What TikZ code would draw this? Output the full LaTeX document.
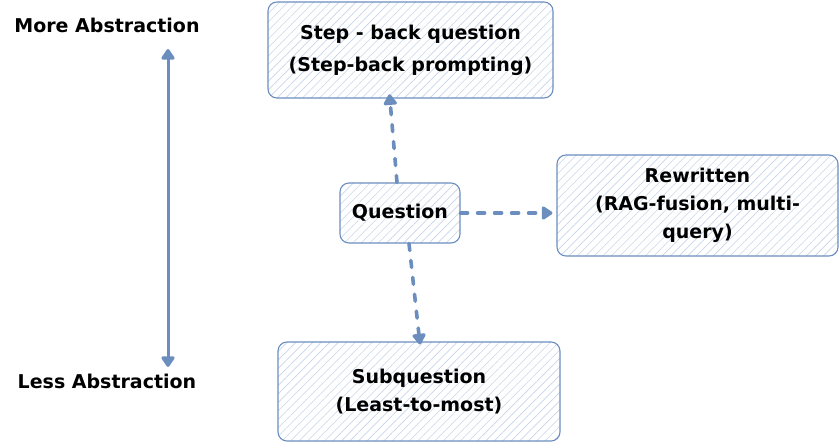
\documentclass[tikz,border=0pt]{standalone}
\usepackage{fontspec}
\setmainfont{DejaVu Sans}
\usetikzlibrary{arrows.meta}
\usetikzlibrary{patterns.meta}
\definecolor{sketchblue}{HTML}{6C8EBF}
\definecolor{hatchblue}{HTML}{C6D5EC}

\begin{document}
\begin{tikzpicture}[x=1pt,y=-1pt,
  box/.style={draw=sketchblue,line width=1.1pt,rounded corners=9pt,
    preaction={fill=white},pattern={Lines[angle=45,distance=6pt,line width=0.6pt]},
    pattern color=hatchblue,align=center,inner sep=0pt,
    font=\bfseries\fontsize{19}{28}\selectfont},
  lbl/.style={font=\bfseries\fontsize{19}{20}\selectfont},
  tipshape/.style={-{Triangle[round,length=12pt,width=15pt]}},
  dasharrow/.style={sketchblue,line width=3.6pt,line cap=round,dash pattern=on 7pt off 10pt,tipshape}]
\useasboundingbox (0,0) rectangle (839,443);
\node[box,minimum width=285pt,minimum height=96pt,
  font=\bfseries\fontsize{19}{32}\selectfont] (step) at (410.5,50) {Step - back question\\(Step-back prompting)};
\node[box,minimum width=120pt,minimum height=60pt] (q) at (400,213) {Question};
\node[box,minimum width=281pt,minimum height=101pt] (rw) at (697.5,205.5) {Rewritten\\(RAG-fusion, multi-\\query)};
\node[box,minimum width=282pt,minimum height=99pt] (sub) at (419,391.5) {Subquestion\\(Least-to-most)};
\node[lbl] (more) at (107,25) {More Abstraction};
\node[lbl] (less) at (107,381) {Less Abstraction};
\coordinate (top) at (168,49);
\coordinate (bot) at (168,367);
\draw[sketchblue,line width=3pt,{Triangle[round,length=12pt,width=15pt]}-{Triangle[round,length=12pt,width=15pt]}] (top) -- (bot);
\draw[dasharrow] ([xshift=-3pt]q.north) -- ([xshift=-21pt,yshift=4pt]step.south);
\draw[dasharrow] (q.east) -- ([xshift=-4pt]q.east -| rw.west);
\draw[dasharrow] ([xshift=9pt]q.south) -- ([xshift=1pt,yshift=-3pt]sub.north);
\end{tikzpicture}
\end{document}
